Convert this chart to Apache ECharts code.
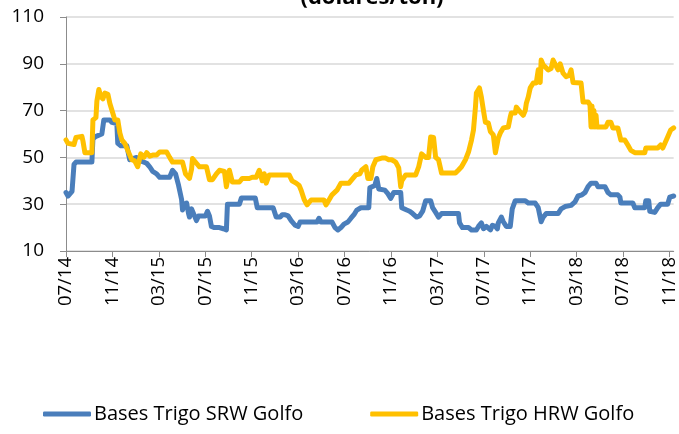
<!DOCTYPE html>
<html><head><meta charset="utf-8">
<script src="https://cdn.jsdelivr.net/npm/echarts@6/dist/echarts.min.js"></script>
<style>html,body{margin:0;padding:0;background:#fff}#c{width:679px;height:434px}</style>
</head><body><div id="c"></div>
<script>
// Time axis unit: months elapsed since 1 July 2014
const startYear = 2014, startMonth = 7;
const tickMonths = [0,4,8,12,16,20,24,28,32,36,40,44,48,52];
const yTicks = [10,30,50,70,90,110];
const seriesNames = ['Bases Trigo SRW Golfo','Bases Trigo HRW Golfo'];
const titleText = '(dólares/ton)';

const srwT = [0,0.17,0.34,0.52,0.69,0.86,2.23,2.32,2.58,3.09,3.26,3.78,3.95,4.38,4.46,4.72,5.24,5.49,6.09,6.44,6.95,7.21,7.47,7.81,8.07,8.93,9.18,9.44,9.70,9.96,10.04,10.21,10.39,10.56,10.64,10.82,10.90,11.07,11.24,11.42,11.59,12.02,12.19,12.36,12.53,12.79,13.22,13.56,13.82,13.91,14.94,15.11,16.31,16.48,17.51,17.85,18.11,18.45,18.63,18.88,19.14,19.40,19.74,20.00,20.17,21.63,21.80,21.97,22.92,23.18,23.43,23.69,23.95,24.29,24.55,24.81,25.06,25.41,26.09,26.18,26.61,26.78,26.95,27.47,27.73,27.98,28.24,28.84,28.93,29.36,29.61,29.87,30.21,30.47,30.73,30.99,31.42,31.59,31.85,32.10,32.36,33.82,33.91,34.16,34.68,34.94,35.36,35.54,35.79,35.97,36.22,36.39,36.57,36.74,37.00,37.17,37.25,37.51,37.68,37.94,38.28,38.45,38.71,39.57,39.83,40.43,40.69,40.86,40.94,41.12,41.37,42.40,42.66,43.00,43.52,43.86,44.12,44.46,44.72,44.98,45.24,45.67,45.84,46.44,46.70,46.95,47.55,47.73,47.81,48.84,49.01,49.87,49.96,50.21,50.30,50.73,50.99,51.24,51.84,52.02,52.36];
const srwV = [35,33.5,34,35.5,47,48,48,58,59,60,66,66,65,64.5,56,55,55,49,50,48.5,47.5,46,44,43,41.5,41.5,44.5,43,38,32,27.5,30,30.5,26,24.5,28,27,25,23,25,25,25,27,25,20.5,20,20,19.5,19,30,30,32.6,32.6,28.5,28.5,28.5,24.5,24.5,25.5,25.5,25,23,21,20.5,22.4,22.4,24,22.4,22.4,20,19,20,21.5,22.4,24,25.5,27.5,28.5,28.5,37,38,41,36.5,36,34.5,32.5,35,35,28.5,27.5,27,26,24.5,25,27,31.5,31.5,28.5,26.5,24.5,26,26,22,20,20,19,19,20.5,22,19.5,20.5,21,19,21,20.5,19.5,22,24.5,22.5,20.5,20.5,28,31.5,31.5,30.5,30.5,28.5,28,22.5,24.5,26,26,28,29,29.5,31,33.5,34,35,37.5,39,39,37.5,37.5,35,34,34,33,30.5,30.5,28.5,28.5,31.5,31.5,27,26.5,28.5,30,30,33,33.5];

const hrwT = [0,0.17,0.69,0.86,1.37,1.46,1.63,2.23,2.32,2.58,2.66,2.83,3.00,3.18,3.35,3.61,3.78,4.03,4.21,4.46,4.64,4.81,5.06,5.32,5.67,5.92,6.18,6.44,6.70,6.95,7.21,7.47,7.81,8.07,8.67,8.93,9.18,10.04,10.30,10.64,10.82,10.90,11.24,11.50,12.10,12.36,12.62,12.96,13.22,13.65,13.82,14.08,14.33,14.94,15.19,15.79,16.05,16.39,16.65,16.91,17.08,17.25,17.51,19.23,19.48,19.83,20.09,20.26,20.52,20.77,21.12,22.23,22.40,22.66,22.92,23.35,23.69,24.38,24.72,24.98,25.32,25.49,25.84,26.01,26.27,26.44,26.70,27.21,27.55,27.81,28.07,28.41,28.67,28.84,28.93,29.27,30.13,30.39,30.64,30.99,31.24,31.42,31.67,31.85,32.10,32.36,33.56,33.82,34.08,34.42,34.68,34.94,35.11,35.28,35.36,35.62,35.79,35.97,36.14,36.39,36.57,36.82,37.00,37.17,37.25,37.42,37.68,38.11,38.28,38.37,38.71,38.80,39.14,39.40,39.57,39.66,39.83,40.00,40.26,40.52,40.69,40.86,40.94,41.12,41.29,41.55,41.80,41.97,42.23,42.40,42.58,42.83,43.09,43.35,43.52,43.69,44.38,44.55,44.98,45.15,45.24,45.32,45.41,45.49,45.58,45.67,45.75,46.52,46.70,46.95,47.12,47.55,47.81,48.15,48.41,48.67,49.01,49.87,49.96,50.99,51.24,51.42,51.59,51.84,52.10,52.36];
const hrwV = [57.5,56,55.5,58.5,59,57,52,52,66,67,74,79,76,75,77.5,77,73,69,66,66,60.5,57.5,56,53,49,48.5,46,51.5,50,52,50.5,51,51,52.3,52.3,50,48,48,43,41,45,49.5,47.5,46,46,40.5,40.5,43,44.5,44,37.5,44.5,39.5,39.5,41,41,41.5,41.5,44.5,40,43,39,42.5,42.5,40,39,38,36,32,29.7,31.8,31.8,29.7,31.8,34,36,39,39,41,42.5,43,44.6,46,41,41,46,49,49.7,49.7,49,49,48,45.5,37.5,40,42.5,42.5,46,51.5,50,50,58.7,58.5,50,49,43.3,43.3,44.6,46,49,52.3,57.4,61.7,71.5,77.5,79.7,75.8,70,65,64.7,61,59.6,52,52,58.3,60.4,62.6,63,67.3,69,69,71.5,69.4,68,70,73,75.8,79.7,81.8,81.8,87.4,82,91.6,89.5,89.5,87.4,88,91.6,89,87.4,90,86,84.5,85,87.4,82,81.8,73.7,73.7,72.4,63,72,63,70,63,68,63,63,65,65,62.6,62.6,57.4,57.4,55.3,53,52,52,54,54,55.3,54,54.5,58.7,61.7,62.6];

function monthLabel(m){
  const total = startMonth - 1 + Math.round(m);
  const mm = total % 12 + 1;
  const yy = (startYear + Math.floor(total / 12)) % 100;
  return String(mm).padStart(2,'0') + '/' + String(yy).padStart(2,'0');
}
const font = "'Open Sans', 'Liberation Sans', sans-serif";
const axisColor = '#8C8C8C';

const chart = echarts.init(document.getElementById('c'), null, {renderer:'canvas'});
chart.setOption({
  animation:false,
  backgroundColor:'#fff',
  textStyle:{fontFamily:font},
  graphic:[{type:'text', x:372, y:9, silent:true,
    style:{text:titleText, textAlign:'center', textVerticalAlign:'bottom',
      font:"bold 22px 'Open Sans', sans-serif", fill:'#000'}}],
  grid:{left:66, right:3, top:17, bottom:183, containLabel:false},
  legend:{top:404, left:43, padding:0, itemWidth:48, itemHeight:5, itemGap:67, icon:'roundRect',
    textStyle:{fontFamily:font, fontSize:20, color:'#000', padding:[0,0,0,-2]},
    data:seriesNames},
  xAxis:{type:'value', min:0, max:52.36,
    axisLine:{show:true, lineStyle:{color:axisColor, width:1}},
    axisTick:{show:true, customValues:tickMonths, length:6, lineStyle:{color:axisColor}},
    axisLabel:{customValues:tickMonths, rotate:90, margin:6, fontSize:18.5, color:'#000', fontFamily:font,
      formatter:v=>monthLabel(v)},
    splitLine:{show:false}},
  yAxis:{type:'value', min:10, max:110, interval:20,
    axisLine:{show:true, lineStyle:{color:axisColor, width:1}},
    axisTick:{show:true, length:6, lineStyle:{color:axisColor}},
    axisLabel:{fontSize:19, color:'#000', margin:22, fontFamily:font},
    splitLine:{show:true, lineStyle:{color:'#D9D9D9', width:1.5}}},
  series:[
    {name:seriesNames[0], type:'line', showSymbol:false, color:'#4A7EBB',
      lineStyle:{width:5, color:'#4A7EBB', join:'round', cap:'round'},
      data:srwT.map((t,i)=>[t, srwV[i]])},
    {name:seriesNames[1], type:'line', showSymbol:false, color:'#FFC000',
      lineStyle:{width:5, color:'#FFC000', join:'round', cap:'round'},
      data:hrwT.map((t,i)=>[t, hrwV[i]])}
  ]
});
</script></body></html>
